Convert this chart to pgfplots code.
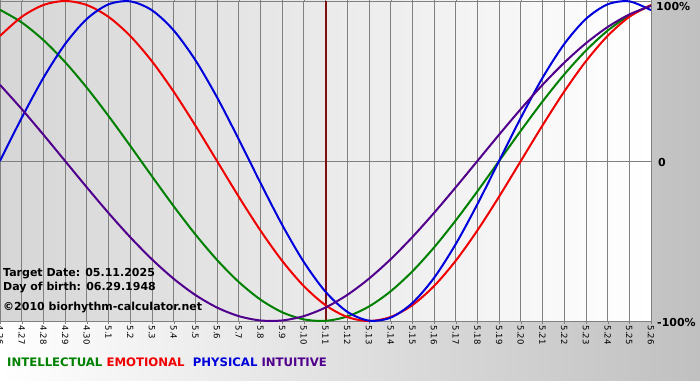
\documentclass[border=0pt]{standalone}
\usepackage{pgfplots}
\pgfplotsset{compat=1.18}
\usepackage{fontspec}
\setmainfont{DejaVu Sans}
\definecolor{cgreen}{RGB}{0,128,0}
\definecolor{cred}{RGB}{240,0,0}
\definecolor{cblue}{RGB}{0,0,220}
\definecolor{cpurple}{RGB}{80,0,140}
\definecolor{cline}{RGB}{128,16,16}
\definecolor{outgray}{RGB}{192,192,192}
\definecolor{plotleft}{RGB}{214,214,214}
\definecolor{gridgray}{RGB}{128,128,128}
\begin{document}
\begin{tikzpicture}[x=1pt,y=1pt]
\path[use as bounding box] (0,0) rectangle (700,380);
\shade[left color=white, right color=outgray] (0,0) rectangle (700,380);
\begin{axis}[
  at={(0pt,59pt)}, anchor=south west,
  scale only axis, width=651pt, height=320pt,
  xmin=0, xmax=30, ymin=-1, ymax=1,
  axis background/.style={shade, left color=plotleft, right color=white},
  axis line style={draw=gridgray},
  xtick={0,...,30},
  xticklabels={4.26,4.27,4.28,4.29,4.30,5.1,5.2,5.3,5.4,5.5,5.6,5.7,5.8,5.9,5.10,5.11,5.12,5.13,5.14,5.15,5.16,5.17,5.18,5.19,5.20,5.21,5.22,5.23,5.24,5.25,5.26},
  xticklabel style={rotate=-90, anchor=west, font=\fontsize{8.5}{9}\selectfont, inner sep=1.5pt},
  x tick style={draw=gridgray},
  tick align=outside, major tick length=3pt,
  ytick={0}, yticklabels={}, y tick style={draw=none},
  xmajorgrids, ymajorgrids,
  grid style={draw=gridgray, line width=0.8pt},
  clip=true,
]
\addplot[cline, line width=2pt] coordinates {(15,-1) (15,1)};
\addplot[cgreen, line width=2pt, smooth] coordinates {
(0,0.9450)(1,0.8660)(2,0.7557)(3,0.6182)(4,0.4582)(5,0.2817)(6,0.0951)(7,-0.0951)(8,-0.2817)(9,-0.4582)(10,-0.6182)(11,-0.7557)(12,-0.8660)(13,-0.9450)(14,-0.9898)(15,-0.9989)(16,-0.9718)(17,-0.9096)(18,-0.8146)(19,-0.6901)(20,-0.5406)(21,-0.3717)(22,-0.1893)(23,0)(24,0.1893)(25,0.3717)(26,0.5406)(27,0.6901)(28,0.8146)(29,0.9096)(30,0.9718)};
\addplot[cred, line width=2pt, smooth] coordinates {
(0,0.7818)(1,0.9010)(2,0.9749)(3,1)(4,0.9749)(5,0.9010)(6,0.7818)(7,0.6235)(8,0.4339)(9,0.2225)(10,0)(11,-0.2225)(12,-0.4339)(13,-0.6235)(14,-0.7818)(15,-0.9010)(16,-0.9749)(17,-1)(18,-0.9749)(19,-0.9010)(20,-0.7818)(21,-0.6235)(22,-0.4339)(23,-0.2225)(24,0)(25,0.2225)(26,0.4339)(27,0.6235)(28,0.7818)(29,0.9010)(30,0.9749)};
\addplot[cblue, line width=2pt, smooth] coordinates {
(0,0)(1,0.2698)(2,0.5196)(3,0.7308)(4,0.8879)(5,0.9791)(6,0.9977)(7,0.9423)(8,0.8170)(9,0.6310)(10,0.3984)(11,0.1362)(12,-0.1362)(13,-0.3984)(14,-0.6310)(15,-0.8170)(16,-0.9423)(17,-0.9977)(18,-0.9791)(19,-0.8879)(20,-0.7308)(21,-0.5196)(22,-0.2698)(23,0)(24,0.2698)(25,0.5196)(26,0.7308)(27,0.8879)(28,0.9791)(29,0.9977)(30,0.9423)};
\addplot[cpurple, line width=2pt, smooth] coordinates {
(0,0.4759)(1,0.3247)(2,0.1646)(3,0)(4,-0.1646)(5,-0.3247)(6,-0.4759)(7,-0.6142)(8,-0.7357)(9,-0.8372)(10,-0.9158)(11,-0.9694)(12,-0.9966)(13,-0.9966)(14,-0.9694)(15,-0.9158)(16,-0.8372)(17,-0.7357)(18,-0.6142)(19,-0.4759)(20,-0.3247)(21,-0.1646)(22,0)(23,0.1646)(24,0.3247)(25,0.4759)(26,0.6142)(27,0.7357)(28,0.8372)(29,0.9158)(30,0.9694)};
\end{axis}
\begin{scope}[every node/.style={inner sep=0pt, font=\bfseries\fontsize{11}{12}\selectfont}]
\node[anchor=base west] at (3,103) {Target Date: 05.11.2025};
\node[anchor=base west] at (3,90) {Day of birth: 06.29.1948};
\node[anchor=base west] at (3,70) {\textcopyright2010 biorhythm-calculator.net};
\node[anchor=west] at (656,373) {100\%};
\node[anchor=west] at (658,218) {0};
\node[anchor=west] at (657,58) {-100\%};
\node[anchor=base west, font=\bfseries\fontsize{11.7}{13}\selectfont] at (7,14) {\textcolor{cgreen}{INTELLECTUAL} \textcolor{cred}{EMOTIONAL}\hspace{4pt} \textcolor{cblue}{PHYSICAL} \textcolor{cpurple}{INTUITIVE}};
\end{scope}
\end{tikzpicture}
\end{document}
